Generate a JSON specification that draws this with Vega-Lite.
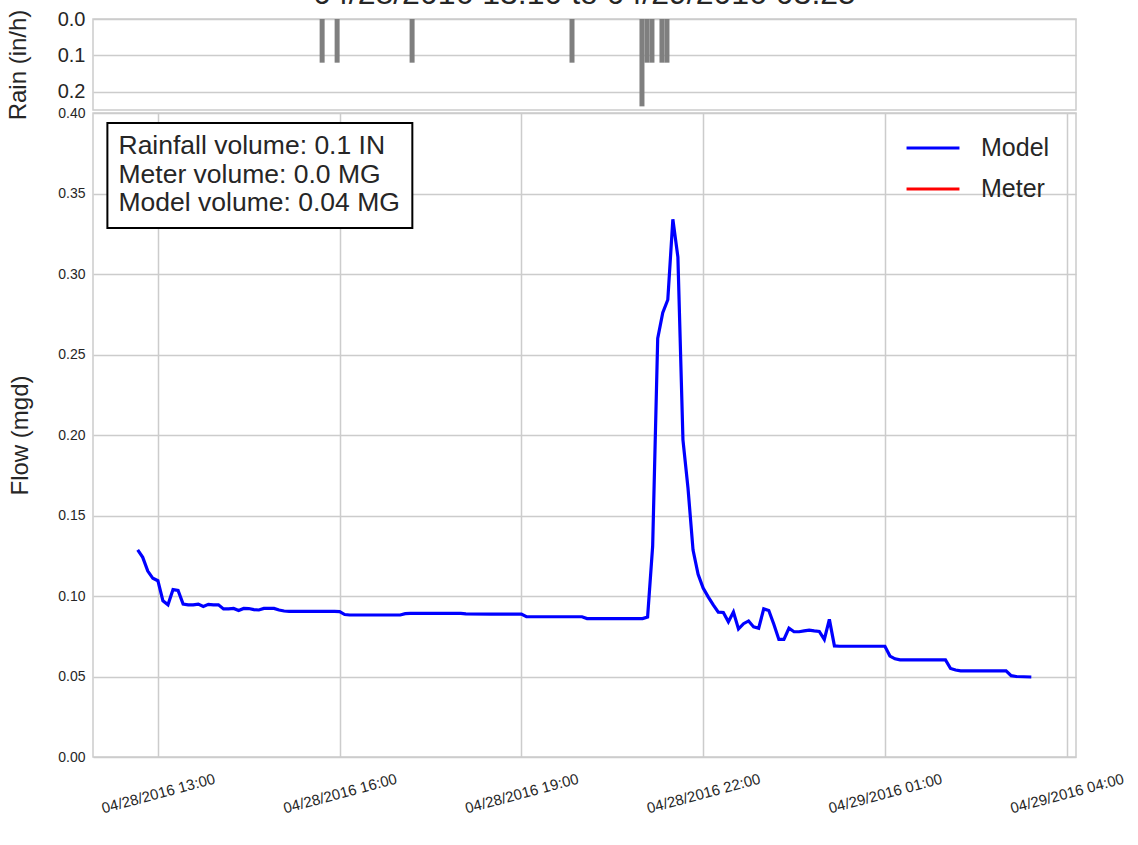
{
  "$schema": "https://vega.github.io/schema/vega-lite/v6.json",
  "padding": {"left": 5, "top": -23, "right": 5, "bottom": 5},
  "background": "white",
  "bounds": "flush",
  "config": {
    "font": "Liberation Sans",
    "view": {"stroke": "#cccccc", "strokeWidth": 1.5},
    "axis": {"gridColor": "#cccccc", "gridWidth": 1.5, "domain": false, "ticks": false, "labelColor": "#262626", "titleColor": "#262626", "titleFontWeight": "normal", "labelFont": "Liberation Sans", "titleFont": "Liberation Sans"},
    "legend": {"labelFont": "Liberation Sans", "labelColor": "#262626"}
  },
  "datasets": {
    "rain": [
      {"time": "2016-04-28T15:40", "rain": 0.12},
      {"time": "2016-04-28T15:55", "rain": 0.12},
      {"time": "2016-04-28T17:10", "rain": 0.12},
      {"time": "2016-04-28T19:50", "rain": 0.12},
      {"time": "2016-04-28T21:00", "rain": 0.24},
      {"time": "2016-04-28T21:05", "rain": 0.12},
      {"time": "2016-04-28T21:10", "rain": 0.12},
      {"time": "2016-04-28T21:20", "rain": 0.12},
      {"time": "2016-04-28T21:25", "rain": 0.12}
    ],
    "flow": [
      {"time": "2016-04-28T12:40", "flow": 0.1286, "series": "Model"},
      {"time": "2016-04-28T12:45", "flow": 0.1240, "series": "Model"},
      {"time": "2016-04-28T12:50", "flow": 0.1155, "series": "Model"},
      {"time": "2016-04-28T12:55", "flow": 0.1110, "series": "Model"},
      {"time": "2016-04-28T13:00", "flow": 0.1095, "series": "Model"},
      {"time": "2016-04-28T13:05", "flow": 0.0970, "series": "Model"},
      {"time": "2016-04-28T13:10", "flow": 0.0945, "series": "Model"},
      {"time": "2016-04-28T13:15", "flow": 0.1040, "series": "Model"},
      {"time": "2016-04-28T13:20", "flow": 0.1035, "series": "Model"},
      {"time": "2016-04-28T13:25", "flow": 0.0950, "series": "Model"},
      {"time": "2016-04-28T13:30", "flow": 0.0945, "series": "Model"},
      {"time": "2016-04-28T13:35", "flow": 0.0945, "series": "Model"},
      {"time": "2016-04-28T13:40", "flow": 0.0950, "series": "Model"},
      {"time": "2016-04-28T13:45", "flow": 0.0935, "series": "Model"},
      {"time": "2016-04-28T13:50", "flow": 0.0948, "series": "Model"},
      {"time": "2016-04-28T13:55", "flow": 0.0945, "series": "Model"},
      {"time": "2016-04-28T14:00", "flow": 0.0945, "series": "Model"},
      {"time": "2016-04-28T14:05", "flow": 0.0920, "series": "Model"},
      {"time": "2016-04-28T14:10", "flow": 0.0920, "series": "Model"},
      {"time": "2016-04-28T14:15", "flow": 0.0923, "series": "Model"},
      {"time": "2016-04-28T14:20", "flow": 0.0910, "series": "Model"},
      {"time": "2016-04-28T14:25", "flow": 0.0923, "series": "Model"},
      {"time": "2016-04-28T14:30", "flow": 0.0922, "series": "Model"},
      {"time": "2016-04-28T14:35", "flow": 0.0915, "series": "Model"},
      {"time": "2016-04-28T14:40", "flow": 0.0913, "series": "Model"},
      {"time": "2016-04-28T14:45", "flow": 0.0923, "series": "Model"},
      {"time": "2016-04-28T14:50", "flow": 0.0923, "series": "Model"},
      {"time": "2016-04-28T14:55", "flow": 0.0923, "series": "Model"},
      {"time": "2016-04-28T15:00", "flow": 0.0913, "series": "Model"},
      {"time": "2016-04-28T15:05", "flow": 0.0907, "series": "Model"},
      {"time": "2016-04-28T15:10", "flow": 0.0905, "series": "Model"},
      {"time": "2016-04-28T15:30", "flow": 0.0905, "series": "Model"},
      {"time": "2016-04-28T15:55", "flow": 0.0905, "series": "Model"},
      {"time": "2016-04-28T16:00", "flow": 0.0903, "series": "Model"},
      {"time": "2016-04-28T16:05", "flow": 0.0885, "series": "Model"},
      {"time": "2016-04-28T16:10", "flow": 0.0882, "series": "Model"},
      {"time": "2016-04-28T16:30", "flow": 0.0882, "series": "Model"},
      {"time": "2016-04-28T17:00", "flow": 0.0882, "series": "Model"},
      {"time": "2016-04-28T17:05", "flow": 0.0890, "series": "Model"},
      {"time": "2016-04-28T17:10", "flow": 0.0892, "series": "Model"},
      {"time": "2016-04-28T17:30", "flow": 0.0892, "series": "Model"},
      {"time": "2016-04-28T18:00", "flow": 0.0892, "series": "Model"},
      {"time": "2016-04-28T18:05", "flow": 0.0889, "series": "Model"},
      {"time": "2016-04-28T18:30", "flow": 0.0888, "series": "Model"},
      {"time": "2016-04-28T19:00", "flow": 0.0888, "series": "Model"},
      {"time": "2016-04-28T19:05", "flow": 0.0872, "series": "Model"},
      {"time": "2016-04-28T19:30", "flow": 0.0871, "series": "Model"},
      {"time": "2016-04-28T20:00", "flow": 0.0871, "series": "Model"},
      {"time": "2016-04-28T20:05", "flow": 0.0860, "series": "Model"},
      {"time": "2016-04-28T20:30", "flow": 0.0860, "series": "Model"},
      {"time": "2016-04-28T21:00", "flow": 0.0860, "series": "Model"},
      {"time": "2016-04-28T21:05", "flow": 0.0870, "series": "Model"},
      {"time": "2016-04-28T21:10", "flow": 0.1310, "series": "Model"},
      {"time": "2016-04-28T21:15", "flow": 0.2600, "series": "Model"},
      {"time": "2016-04-28T21:20", "flow": 0.2760, "series": "Model"},
      {"time": "2016-04-28T21:25", "flow": 0.2840, "series": "Model"},
      {"time": "2016-04-28T21:30", "flow": 0.3340, "series": "Model"},
      {"time": "2016-04-28T21:35", "flow": 0.3105, "series": "Model"},
      {"time": "2016-04-28T21:40", "flow": 0.1970, "series": "Model"},
      {"time": "2016-04-28T21:45", "flow": 0.1670, "series": "Model"},
      {"time": "2016-04-28T21:50", "flow": 0.1285, "series": "Model"},
      {"time": "2016-04-28T21:55", "flow": 0.1135, "series": "Model"},
      {"time": "2016-04-28T22:00", "flow": 0.1050, "series": "Model"},
      {"time": "2016-04-28T22:05", "flow": 0.0995, "series": "Model"},
      {"time": "2016-04-28T22:10", "flow": 0.0945, "series": "Model"},
      {"time": "2016-04-28T22:15", "flow": 0.0900, "series": "Model"},
      {"time": "2016-04-28T22:20", "flow": 0.0898, "series": "Model"},
      {"time": "2016-04-28T22:25", "flow": 0.0840, "series": "Model"},
      {"time": "2016-04-28T22:30", "flow": 0.0900, "series": "Model"},
      {"time": "2016-04-28T22:35", "flow": 0.0795, "series": "Model"},
      {"time": "2016-04-28T22:40", "flow": 0.0828, "series": "Model"},
      {"time": "2016-04-28T22:45", "flow": 0.0845, "series": "Model"},
      {"time": "2016-04-28T22:50", "flow": 0.0808, "series": "Model"},
      {"time": "2016-04-28T22:55", "flow": 0.0800, "series": "Model"},
      {"time": "2016-04-28T23:00", "flow": 0.0920, "series": "Model"},
      {"time": "2016-04-28T23:05", "flow": 0.0910, "series": "Model"},
      {"time": "2016-04-28T23:10", "flow": 0.0825, "series": "Model"},
      {"time": "2016-04-28T23:15", "flow": 0.0730, "series": "Model"},
      {"time": "2016-04-28T23:20", "flow": 0.0730, "series": "Model"},
      {"time": "2016-04-28T23:25", "flow": 0.0800, "series": "Model"},
      {"time": "2016-04-28T23:30", "flow": 0.0778, "series": "Model"},
      {"time": "2016-04-28T23:35", "flow": 0.0778, "series": "Model"},
      {"time": "2016-04-28T23:40", "flow": 0.0783, "series": "Model"},
      {"time": "2016-04-28T23:45", "flow": 0.0788, "series": "Model"},
      {"time": "2016-04-28T23:50", "flow": 0.0783, "series": "Model"},
      {"time": "2016-04-28T23:55", "flow": 0.0780, "series": "Model"},
      {"time": "2016-04-29T00:00", "flow": 0.0730, "series": "Model"},
      {"time": "2016-04-29T00:05", "flow": 0.0855, "series": "Model"},
      {"time": "2016-04-29T00:10", "flow": 0.0690, "series": "Model"},
      {"time": "2016-04-29T00:15", "flow": 0.0688, "series": "Model"},
      {"time": "2016-04-29T00:30", "flow": 0.0688, "series": "Model"},
      {"time": "2016-04-29T01:00", "flow": 0.0688, "series": "Model"},
      {"time": "2016-04-29T01:05", "flow": 0.0627, "series": "Model"},
      {"time": "2016-04-29T01:10", "flow": 0.0610, "series": "Model"},
      {"time": "2016-04-29T01:15", "flow": 0.0603, "series": "Model"},
      {"time": "2016-04-29T01:30", "flow": 0.0603, "series": "Model"},
      {"time": "2016-04-29T02:00", "flow": 0.0603, "series": "Model"},
      {"time": "2016-04-29T02:05", "flow": 0.0550, "series": "Model"},
      {"time": "2016-04-29T02:10", "flow": 0.0540, "series": "Model"},
      {"time": "2016-04-29T02:15", "flow": 0.0535, "series": "Model"},
      {"time": "2016-04-29T02:30", "flow": 0.0535, "series": "Model"},
      {"time": "2016-04-29T03:00", "flow": 0.0535, "series": "Model"},
      {"time": "2016-04-29T03:05", "flow": 0.0505, "series": "Model"},
      {"time": "2016-04-29T03:10", "flow": 0.0500, "series": "Model"},
      {"time": "2016-04-29T03:25", "flow": 0.0497, "series": "Model"}
    ]
  },
  "spacing": 3,
  "resolve": {"scale": {"x": "independent", "y": "independent", "color": "independent"}, "legend": {"color": "independent"}},
  "vconcat": [
    {
      "width": 983,
      "height": 91,
      "title": {"text": "04/28/2016 13:10 to 04/29/2016 03:25", "fontSize": 32, "fontWeight": "normal", "color": "#262626", "font": "Liberation Sans", "offset": -2},
      "data": {"name": "rain"},
      "mark": {"type": "bar", "size": 5, "color": "#7f7f7f"},
      "encoding": {
        "x": {"field": "time", "type": "temporal",
              "scale": {"domain": [{"year": 2016, "month": 4, "date": 28, "hours": 11, "minutes": 55, "seconds": 45}, {"year": 2016, "month": 4, "date": 29, "hours": 4, "minutes": 9, "seconds": 15}]},
              "axis": null},
        "y": {"field": "rain", "type": "quantitative",
              "scale": {"domain": [0, 0.25], "reverse": true, "nice": false},
              "axis": {"values": [0, 0.1, 0.2], "format": ".1f", "grid": true, "labelFontSize": 20, "labelPadding": 8, "title": "Rain (in/h)", "titleFontSize": 24, "titlePadding": 27}}
      }
    },
    {
      "width": 983,
      "height": 644,
      "layer": [
        {
          "data": {"name": "flow"},
          "mark": {"type": "line", "strokeWidth": 3.2},
          "encoding": {
            "x": {"field": "time", "type": "temporal",
                  "scale": {"domain": [{"year": 2016, "month": 4, "date": 28, "hours": 11, "minutes": 55, "seconds": 45}, {"year": 2016, "month": 4, "date": 29, "hours": 4, "minutes": 9, "seconds": 15}]},
                  "axis": {"title": null, "grid": true, "format": "%m/%d/%Y %H:%M", "labelFontSize": 15, "labelAngle": -15, "labelAlign": "center", "labelBaseline": "middle", "labelPadding": 36, "labelOverlap": false,
                           "values": [
                             {"year": 2016, "month": 4, "date": 28, "hours": 13},
                             {"year": 2016, "month": 4, "date": 28, "hours": 16},
                             {"year": 2016, "month": 4, "date": 28, "hours": 19},
                             {"year": 2016, "month": 4, "date": 28, "hours": 22},
                             {"year": 2016, "month": 4, "date": 29, "hours": 1},
                             {"year": 2016, "month": 4, "date": 29, "hours": 4}
                           ]}},
            "y": {"field": "flow", "type": "quantitative",
                  "scale": {"domain": [0, 0.4], "nice": false},
                  "axis": {"values": [0, 0.05, 0.1, 0.15, 0.2, 0.25, 0.3, 0.35, 0.4], "format": ".2f", "grid": true, "labelFontSize": 14, "labelPadding": 8, "title": "Flow (mgd)", "titleFontSize": 24, "titlePadding": 25}},
            "color": {"field": "series", "type": "nominal",
                      "scale": {"domain": ["Model", "Meter"], "range": ["#0000ff", "#ff0000"]},
                      "legend": {"orient": "none", "legendX": 812, "legendY": 7, "title": null, "symbolType": "stroke", "symbolStrokeWidth": 3, "symbolSize": 2800, "labelFontSize": 25, "labelOffset": 20, "rowPadding": -6}}
          }
        },
        {
          "data": {"values": [{"note": "box"}]},
          "mark": {"type": "rect", "fill": "white", "stroke": "black", "strokeWidth": 2},
          "encoding": {
            "x": {"datum": {"year": 2016, "month": 4, "date": 28, "hours": 12, "minutes": 10}, "type": "temporal"},
            "x2": {"datum": {"year": 2016, "month": 4, "date": 28, "hours": 17, "minutes": 12}},
            "y": {"datum": 0.3938, "type": "quantitative"},
            "y2": {"datum": 0.3286}
          }
        },
        {
          "data": {"values": [{"label": ["Rainfall volume: 0.1 IN", "Meter volume: 0.0 MG", "Model volume: 0.04 MG"]}]},
          "mark": {"type": "text", "align": "left", "baseline": "top", "fontSize": 26.5, "lineHeight": 28.5, "color": "#262626", "font": "Liberation Sans"},
          "encoding": {
            "x": {"datum": {"year": 2016, "month": 4, "date": 28, "hours": 12, "minutes": 21}, "type": "temporal"},
            "y": {"datum": 0.3875, "type": "quantitative"},
            "text": {"field": "label"}
          }
        }
      ]
    }
  ]
}
